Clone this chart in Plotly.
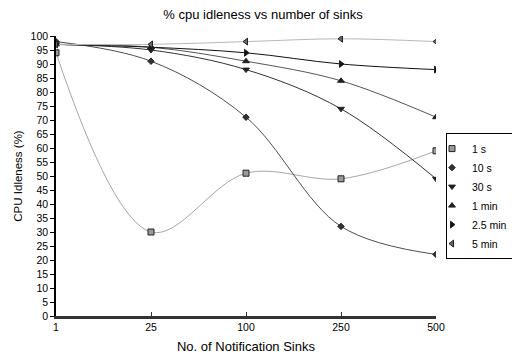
import plotly.graph_objects as go

categories = ["1", "25", "100", "250", "500"]
series_names = ["1 s", "10 s", "30 s", "1 min", "2.5 min", "5 min"]
s_1s = [94, 30, 51, 49, 59]
s_10s = [98, 91, 71, 32, 22]
s_30s = [97, 95, 88, 74, 49]
s_1min = [97, 96, 91, 84, 71]
s_2_5min = [97, 96, 94, 90, 88]
s_5min = [97, 97, 98, 99, 98]
y_ticks = list(range(0, 101, 5))

all_series = [s_1s, s_10s, s_30s, s_1min, s_2_5min, s_5min]
line_colors = ["#a6a6a6", "#4d4d4d", "#333333", "#555555", "#111111", "#b8b8b8"]
symbols = ["square", "diamond", "triangle-down", "triangle-up", "triangle-right", "triangle-left"]
marker_fill = ["#9a9a9a", "#333333", "#222222", "#222222", "#111111", "#666666"]
marker_size = [6, 5, 6, 6, 6, 6]

FONT = "Arial, Liberation Sans, sans-serif"
fig = go.Figure()
for name, vals, lc in zip(series_names, all_series, line_colors):
    fig.add_trace(go.Scatter(
        x=categories, y=vals, mode="lines", name=name, showlegend=False,
        line=dict(color=lc, width=1, shape="spline", smoothing=1.0),
        hoverinfo="skip",
    ))
for name, vals, sym, mf, ms in zip(series_names, all_series, symbols, marker_fill, marker_size):
    fig.add_trace(go.Scatter(
        x=categories, y=vals, mode="markers", name=name,
        marker=dict(symbol=sym, size=ms, color=mf, line=dict(color="#222222", width=1)),
    ))

fig.update_layout(
    width=512, height=359,
    margin=dict(l=56, r=76, t=36, b=43, autoexpand=False),
    paper_bgcolor="white", plot_bgcolor="white",
    font=dict(family=FONT, size=10.5, color="#000000"),
    title=dict(text="% cpu idleness vs number of sinks", x=263 / 512, xanchor="center",
               xref="container", y=1 - 14 / 359, yanchor="middle", font=dict(size=13)),
    legend=dict(x=(446 - 56) / 380, xanchor="left", y=(315.7 - 133) / 279.7, yanchor="top",
                bordercolor="#000000", borderwidth=1, bgcolor="white",
                font=dict(size=10.5), tracegroupgap=0, itemwidth=30, indentation=-15),
    showlegend=True,
)
fig.update_xaxes(
    type="category", range=[0, 4], showgrid=False, zeroline=False,
    showline=True, linecolor="#333333", linewidth=2.5,
    ticks="inside", ticklen=4, tickcolor="#333333",
    title=dict(text="No. of Notification Sinks", font=dict(size=13), standoff=10),
)
fig.update_yaxes(
    range=[0, 100], tickvals=y_ticks, showgrid=False, zeroline=False,
    showline=True, linecolor="#000000", linewidth=1.5,
    ticks="outside", ticklen=4, tickcolor="#000000",
    title=dict(text="CPU Idleness (%)", font=dict(size=11.5), standoff=6),
)
fig.write_html("out.html")
